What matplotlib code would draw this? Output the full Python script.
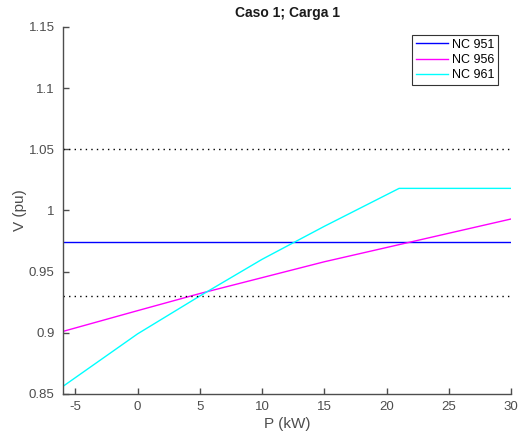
import matplotlib
matplotlib.use('Agg')
import matplotlib.pyplot as plt

plt.rcParams['font.family'] = ['Liberation Sans', 'DejaVu Sans']
plt.rcParams['axes.unicode_minus'] = False

# data
p_kw = [-6, 0, 5, 10, 15, 21, 30]
nc951 = [0.974, 0.974, 0.974, 0.974, 0.974, 0.974, 0.974]
nc956 = [0.901, 0.918, 0.932, 0.945, 0.958, 0.972, 0.993]
nc961 = [0.856, 0.899, 0.930, 0.960, 0.987, 1.018, 1.018]
v_max = 1.05
v_min = 0.93
xticks = [-5, 0, 5, 10, 15, 20, 25, 30]
yticks = [0.85, 0.9, 0.95, 1.0, 1.05, 1.1, 1.15]
ytick_labels = ['0.85', '0.9', '0.95', '1', '1.05', '1.1', '1.15']

axc = '#4d4d4d'

fig = plt.figure(figsize=(5.19, 4.42), dpi=100)
ax = fig.add_axes([0.121, 0.109, 0.864, 0.830])

ax.plot(p_kw, nc951, color=(0, 0, 1), lw=1, label='NC 951')
ax.plot(p_kw, nc956, color=(1, 0, 1), lw=1, label='NC 956')
ax.plot(p_kw, nc961, color=(0, 1, 1), lw=1, label='NC 961')
ax.axhline(v_max, color='k', lw=1, ls=(0, (1, 3)))
ax.axhline(v_min, color='k', lw=1, ls=(0, (1, 3)))

ax.set_xlim(-6, 30)
ax.set_ylim(0.85, 1.15)
ax.set_xticks(xticks)
ax.set_yticks(yticks)
ax.set_yticklabels(ytick_labels)

for s in ['top', 'right']:
    ax.spines[s].set_visible(False)
for s in ['left', 'bottom']:
    ax.spines[s].set_color(axc)
    ax.spines[s].set_linewidth(1)
ax.tick_params(direction='in', length=4, width=1, color=axc,
               labelcolor=axc, labelsize=9.5)
ax.tick_params(axis='y', pad=6)
ax.tick_params(axis='x', pad=5)

ax.set_title('Caso 1; Carga 1', fontsize=10, fontweight='bold', color='#1a1a1a', pad=7)
ax.set_xlabel('P (kW)', fontsize=11, color=axc, labelpad=3)
ax.set_ylabel('V (pu)', fontsize=11, color=axc, labelpad=1)

leg = ax.legend(loc='upper right', bbox_to_anchor=(0.971, 0.978), borderaxespad=0,
                fontsize=9, fancybox=False, framealpha=1, edgecolor='#333333',
                handlelength=2.6, handletextpad=0.3, labelspacing=0.25,
                borderpad=0.3)
leg.get_frame().set_linewidth(0.8)

fig.savefig('out.png', dpi=100)
